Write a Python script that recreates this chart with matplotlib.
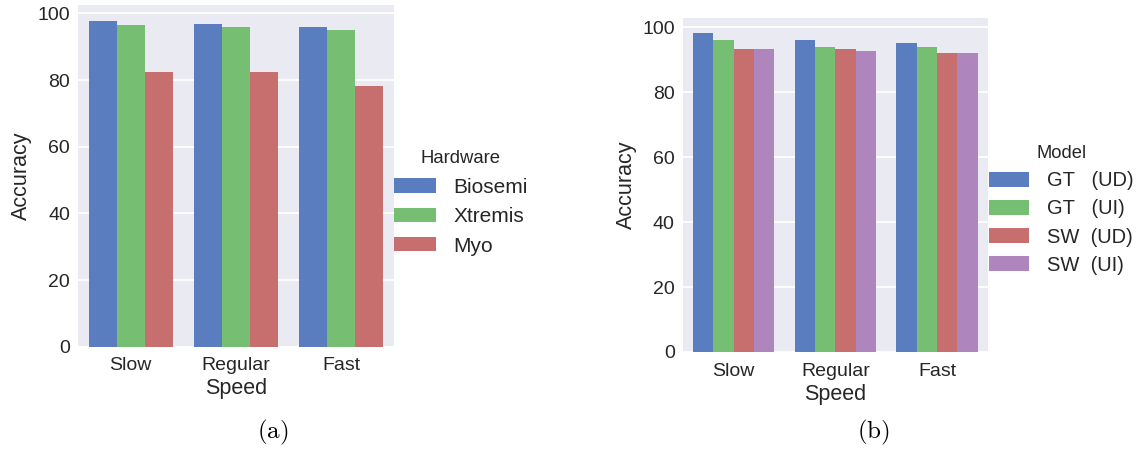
import numpy as np
import matplotlib
matplotlib.use("Agg")
import matplotlib.pyplot as plt

speeds = ["Slow", "Regular", "Fast"]

hardware = ["Biosemi", "Xtremis", "Myo"]
acc_hardware = [
    [97.8, 96.8, 95.9],  # Biosemi
    [96.6, 95.9, 95.0],  # Xtremis
    [82.4, 82.4, 78.2],  # Myo
]

models = ["GT   (UD)", "GT   (UI)", "SW  (UD)", "SW  (UI)"]
acc_models = [
    [98.2, 96.0, 95.1],  # GT (UD)
    [96.0, 94.1, 94.1],  # GT (UI)
    [93.2, 93.2, 92.0],  # SW (UD)
    [93.2, 92.6, 92.0],  # SW (UI)
]

colors = ["#597DBE", "#76BF72", "#C76E6E", "#AF85BD"]

plt.rcParams["font.family"] = ["Liberation Sans", "DejaVu Sans"]
plt.rcParams["mathtext.fontset"] = "cm"
plt.rcParams["text.color"] = ".15"
plt.rcParams["axes.labelcolor"] = ".15"
plt.rcParams["xtick.color"] = ".15"
plt.rcParams["ytick.color"] = ".15"

fig = plt.figure(figsize=(11.43, 4.49), dpi=100)


def grouped_bars(ax, values, labels, ymax):
    n = len(values)
    width = 0.8 / n
    x = np.arange(len(speeds))
    for i, vals in enumerate(values):
        ax.bar(x - 0.4 + width * (i + 0.5), vals, width, color=colors[i],
               label=labels[i], zorder=2, linewidth=0)
    ax.set_facecolor("#EAEAF2")
    for s in ax.spines.values():
        s.set_visible(False)
    ax.set_xlim(-0.5, 2.5)
    ax.set_ylim(0, ymax)
    ax.set_yticks([0, 20, 40, 60, 80, 100])
    ax.set_xticks(x)
    ax.set_xticklabels(speeds)
    ax.yaxis.grid(True, color="white", linewidth=1.3, zorder=0)
    ax.set_axisbelow(True)
    ax.tick_params(axis="x", length=0, pad=7.6, labelsize=14)
    ax.tick_params(axis="y", length=0, pad=5.8, labelsize=14)
    ax.set_xlabel("Speed", fontsize=15.5, labelpad=3)
    ax.set_ylabel("Accuracy", fontsize=15.5, labelpad=4)


ax1 = fig.add_axes([0.06824, 0.22784, 0.27647, 0.76102])
grouped_bars(ax1, acc_hardware, hardware, 102.5)
leg1 = ax1.legend(title="Hardware", loc="center left", frameon=False, fontsize=15,
                  title_fontsize=13.3, borderaxespad=0, borderpad=0,
                  handlelength=2.02, handleheight=0.67, handletextpad=0.82,
                  labelspacing=0.5)
leg1.set_bbox_to_anchor((394 / 1143, 1 - 203 / 449), transform=fig.transFigure)

ax2 = fig.add_axes([0.59738, 0.21604, 0.26702, 0.74321])
grouped_bars(ax2, acc_models, models, 102.8)
leg2 = ax2.legend(title="Model", loc="center left", frameon=False, fontsize=14.5,
                  title_fontsize=13.2, borderaxespad=0, borderpad=0,
                  handlelength=2.0, handleheight=0.75, handletextpad=0.9,
                  labelspacing=0.45)
leg2.set_bbox_to_anchor((989 / 1143, 1 - 210 / 449), transform=fig.transFigure)

fig.text(273 / 1143, 1 - 432 / 449, r"$\mathrm{(a)}$", fontsize=18,
         ha="center", va="center", color="black")
fig.text(873 / 1143, 1 - 432 / 449, r"$\mathrm{(b)}$", fontsize=18,
         ha="center", va="center", color="black")

fig.savefig("out.png", dpi=100)
